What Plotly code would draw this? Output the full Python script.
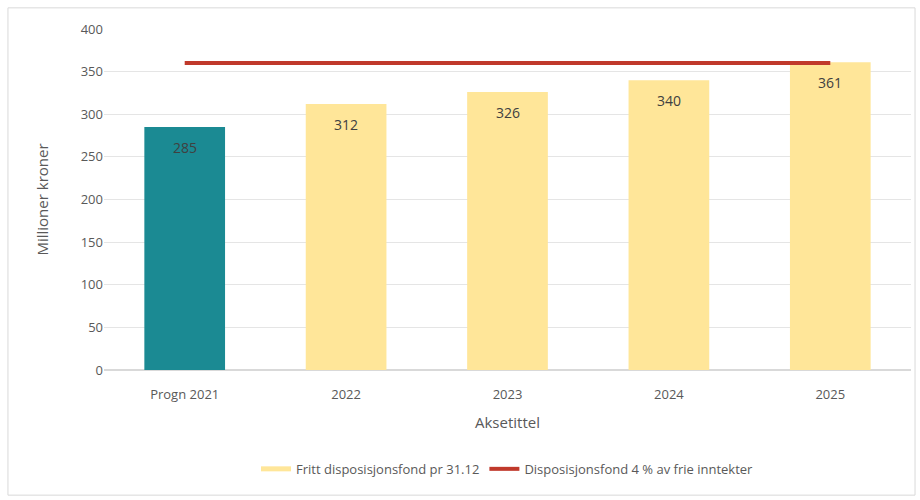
import plotly.graph_objects as go

categories = ["Progn 2021", "2022", "2023", "2024", "2025"]
fund_values = [285, 312, 326, 340, 361]
fund_labels = ["285", "312", "326", "340", "361"]
target_values = [360, 360, 360, 360, 360]

teal = "#1b8a93"
yellow = "#ffe699"
red = "#c0392b"
font_family = "Open Sans, Liberation Sans, sans-serif"
txt = "#595959"

fig = go.Figure()
fig.add_trace(go.Bar(
    x=categories[:1], y=fund_values[:1], showlegend=False,
    marker=dict(color=teal, line=dict(width=0)),
    width=0.5, hoverinfo="x+y",
))
fig.add_trace(go.Bar(
    x=categories[1:], y=fund_values[1:], showlegend=False,
    marker=dict(color=yellow, line=dict(width=0)),
    width=0.5, hoverinfo="x+y",
))
fig.add_trace(go.Scatter(
    x=[None], y=[None], mode="lines", name="Fritt disposisjonsfond pr 31.12",
    line=dict(color=yellow, width=5),
))
fig.add_trace(go.Scatter(
    x=categories, y=target_values, mode="lines",
    name="Disposisjonsfond 4 % av frie inntekter",
    line=dict(color=red, width=4),
))

# data labels placed by category index on the category axis
annotations = [
    dict(x=i, y=v, text=t, showarrow=False, yshift=-20, yanchor="middle",
         font=dict(size=14, color="#404040", family=font_family))
    for i, (v, t) in enumerate(zip(fund_values, fund_labels))
]

fig.update_layout(
    width=920, height=500,
    margin=dict(l=104, r=9, t=29, b=130),
    paper_bgcolor="white", plot_bgcolor="white",
    font=dict(family=font_family, color=txt, size=13),
    showlegend=True, barmode="overlay",
    legend=dict(orientation="h", x=0.5, xanchor="center", y=-0.29, yanchor="middle",
                font=dict(size=13, color=txt), traceorder="normal"),
    xaxis=dict(type="category",
               title=dict(text="Aksetittel", font=dict(size=15, color=txt), standoff=15),
               categoryorder="array", categoryarray=categories,
               showgrid=False, showline=True, linecolor="#d9d9d9", ticks="",
               ticklabelstandoff=12,
               tickfont=dict(size=13, color=txt)),
    yaxis=dict(title=dict(text="Millioner kroner", font=dict(size=15, color=txt), standoff=28),
               range=[0, 400], dtick=50, showgrid=True, gridcolor="#e5e5e5",
               zeroline=True, zerolinecolor="#d9d9d9", ticks="",
               tickfont=dict(size=13, color=txt)),
    annotations=annotations,
    shapes=[dict(type="rect", xref="paper", yref="paper",
                 x0=-0.119, x1=1.005, y0=-0.367, y1=1.062,
                 line=dict(color="#d9d9d9", width=1))],
)

fig.write_html("out.html", config={"displayModeBar": False},
               post_script="document.body.style.margin='0';document.body.style.overflow='hidden';")
